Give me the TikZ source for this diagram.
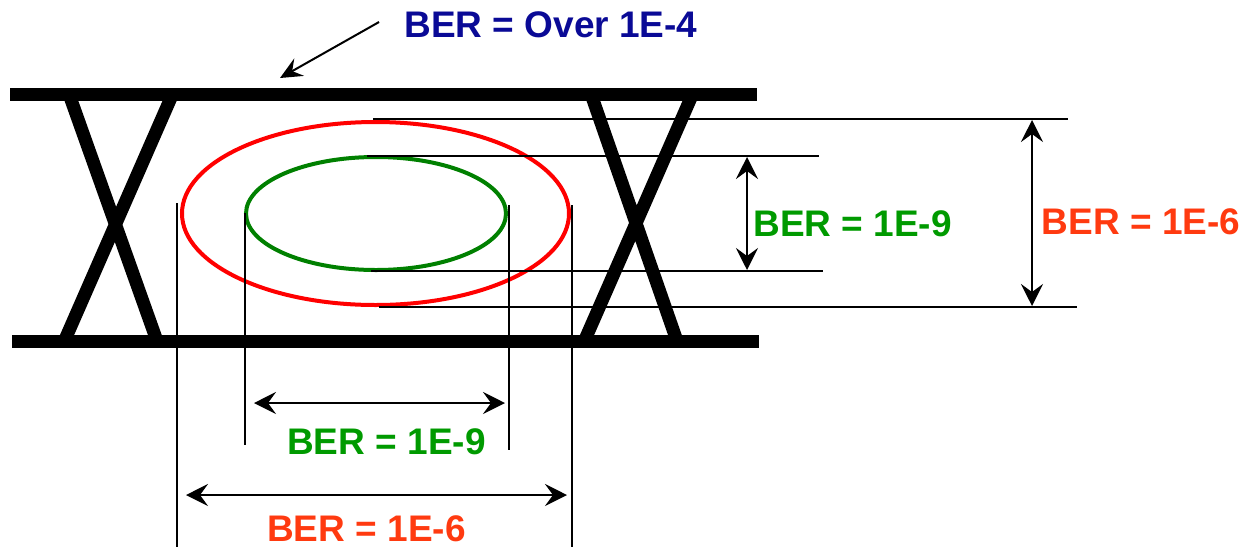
\documentclass[tikz,border=0pt]{standalone}
\usepackage{fontspec}
\setmainfont{Liberation Sans}
\usepackage{tikz}
\usetikzlibrary{arrows.meta, positioning}
\definecolor{berblue}{HTML}{0A0A96}
\definecolor{bergreen}{HTML}{009A00}
\definecolor{eyegreen}{HTML}{008000}
\definecolor{berred}{HTML}{FF3A10}
\tikzset{
  rail/.style={line width=6.5pt},
  guide/.style={line width=1pt},
  dimarrow/.style={<->,>={Stealth[length=11pt,width=11pt,inset=4pt]},line width=1pt},
  pointer/.style={->,>={Stealth[length=11pt,width=10pt,inset=4pt]},line width=1pt},
  berlabel/.style={font=\bfseries\fontsize{18.5}{22}\selectfont,inner sep=0pt},
}

\begin{document}
\begin{tikzpicture}[x=0.5pt,y=-0.5pt]
        \useasboundingbox (0,0) rectangle (1248,547);
        \draw[rail] (10,94)--(757,94); %上の線
        \draw[rail] (12,341)--(759,341); %下の線
        \draw[rail] (69,94)--(157,341) (172.6,94)--(64.4,341); %左のX
        \draw[rail] (591,94)--(677,341) (692.6,94)--(584.4,341); %右のX
        \draw[red,line width=2pt] (375.5,213.5) ellipse [x radius=193.5,y radius=91.5];
        \draw[eyegreen,line width=2pt] (376,213.5) ellipse [x radius=130,y radius=56.5];
        % 補助線
        \draw[guide] (373,119)--(1068,119);
        \draw[guide] (367,156)--(819,156);
        \draw[guide] (371,271)--(823,271);
        \draw[guide] (379,307)--(1077,307);
        \draw[guide] (177,203)--(177,547);
        \draw[guide] (245,213)--(245,445);
        \draw[guide] (509,205)--(509,450);
        \draw[guide] (572,205)--(572,547);
        % 寸法
        \coordinate (gtop) at (747,157);
        \coordinate (gbot) at (747,270);
        \coordinate (rtop) at (1032,120);
        \coordinate (rbot) at (1032,306);
        \coordinate (gleft) at (254,403);
        \coordinate (gright) at (505,403);
        \coordinate (rleft) at (186,495);
        \coordinate (rright) at (567,495);
        \coordinate (railmark) at (280,78);
        \draw[dimarrow] (gtop)--(gbot);
        \draw[dimarrow] (rtop)--(rbot);
        \draw[dimarrow] (gleft)--(gright);
        \draw[dimarrow] (rleft)--(rright);
        % ラベル
        \node[berlabel,text=berblue] (ber4) at (551,25) {BER = Over 1E-4};
        \node[berlabel,text=bergreen] (ber9v) at (852.5,223.5) {BER = 1E-9};
        \node[berlabel,text=berred] (ber6v) at (1141,222) {BER = 1E-6};
        \node[berlabel,text=bergreen] (ber9h) at (386.5,441.5) {BER = 1E-9};
        \node[berlabel,text=berred] (ber6h) at (366.5,529) {BER = 1E-6};
        \draw[pointer] ([xshift=-12.5pt,yshift=1.5pt]ber4.west)--(railmark);
    \end{tikzpicture}
\end{document}
